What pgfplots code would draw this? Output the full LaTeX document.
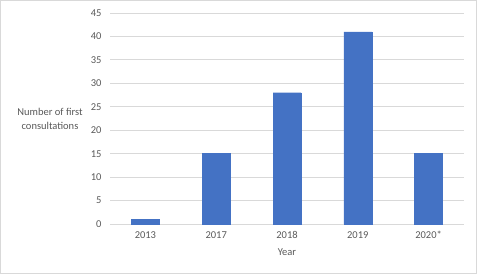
\documentclass[border=0pt]{standalone}
\usepackage{pgfplots}
\pgfplotsset{compat=1.18}
\usepackage{fontspec}
\setmainfont{Carlito}
\definecolor{barblue}{HTML}{4472C4}
\definecolor{gridgray}{HTML}{D9D9D9}
\definecolor{txtgray}{HTML}{595959}
\begin{document}
\begin{tikzpicture}[x=1pt,y=1pt,font=\fontsize{10.5}{13.5}\selectfont]
\draw[draw=gridgray,line width=0.8pt] (0.4,0.4) rectangle (476.6,273.6);
\begin{axis}[
  at={(110pt,50pt)}, anchor=south west,
  scale only axis, width=354pt, height=211pt,
  xmin=-0.5, xmax=4.5, ymin=0, ymax=45,
  axis line style={draw=none},
  xtick={0,1,2,3,4},
  xticklabels={2013,2017,2018,2019,2020*},
  ytick={0,5,...,45},
  major tick length=0pt,
  ymajorgrids, grid style={gridgray, line width=0.8pt},
  tick label style={text=txtgray, font=\fontsize{10.5}{12}\selectfont},
  /pgf/number format/assume math mode=true,
  yticklabel style={xshift=-5pt},
  xticklabel style={yshift=-4pt},
  xlabel={Year}, xlabel style={text=txtgray, yshift=-3pt},
  clip=false,
]
\draw[gridgray, line width=0.8pt] (axis cs:-0.5,0) -- (axis cs:4.5,0);
\addplot[ybar, bar width=28pt, fill=barblue, draw=barblue] coordinates {(0,1) (1,15) (2,28) (3,41) (4,15)};
\end{axis}
\node[align=center, text=txtgray] at (50,155) {Number of first\\consultations};
\end{tikzpicture}
\end{document}
